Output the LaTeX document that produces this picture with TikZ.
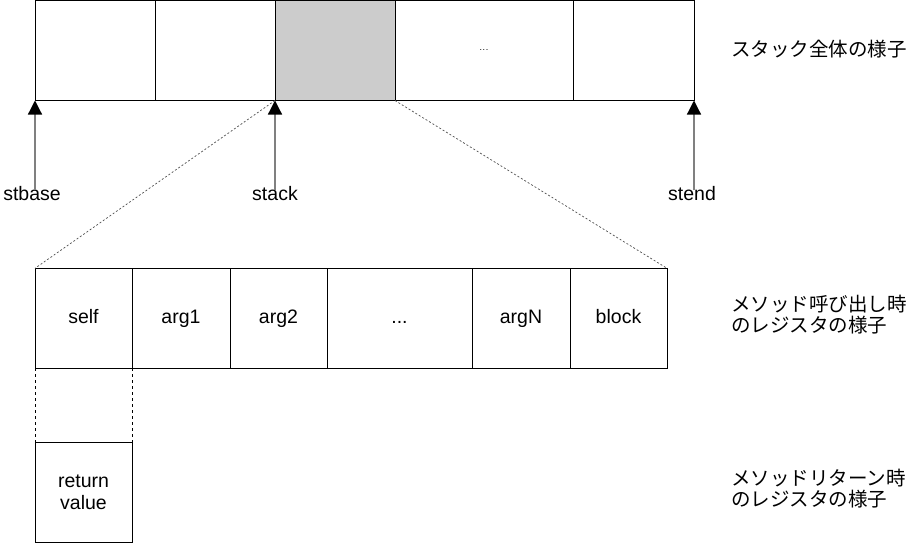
\documentclass[tikz,border=0pt]{standalone}
\usepackage{fontspec}
\setmainfont{Liberation Sans}
\newfontfamily\jpfont{Noto Sans CJK JP}
\usetikzlibrary{arrows.meta}
\begin{document}
\begin{tikzpicture}[x=1pt,y=-1pt,
  cell/.style={draw=black,line width=1pt,inner sep=0pt,outer sep=0pt,minimum height=100pt,
    font=\fontsize{19.5}{22}\selectfont},
  txt/.style={text height=14pt,text depth=4pt},
  lbl/.style={inner sep=0pt,font=\fontsize{19.5}{22}\selectfont,text height=14pt,text depth=4pt},
  jp/.style={inner sep=0pt,anchor=west,align=left,font=\jpfont\fontsize{19.5}{21}\selectfont},
  pointer/.style={draw={rgb,255:red,128;green,128;blue,128},line width=1.2pt,
    -{Triangle[width=14pt,length=14pt,black]}},
  zoomline/.style={draw={rgb,255:red,80;green,80;blue,80},line width=0.7pt,dash pattern=on 2pt off 2pt},
  selfline/.style={draw=black,line width=1pt,dash pattern=on 3pt off 3pt}]
\useasboundingbox (0,0) rectangle (916,543);
% top row
\node[cell,minimum width=120pt] (t1) at (95,50.5) {};
\node[cell,minimum width=120pt] (t2) at (215,50.5) {};
\node[cell,minimum width=120pt,fill={rgb,255:red,204;green,204;blue,204}] (t3) at (335,50.5) {};
\node[cell,minimum width=178pt,font=\fontsize{9}{10}\selectfont] (t4) at (484,50.5) {.\kern0.6pt.\kern0.6pt.};
\node[cell,minimum width=121pt] (t5) at (633.5,50.5) {};
% pointer labels
\node[lbl] (lbase) at (32,195) {stbase};
\node[lbl] (lstack) at (275,195) {stack};
\node[lbl] (lend) at (692,195) {stend};
\draw[pointer] ([yshift=-4pt]t1.south west |- lbase.north) -- (t1.south west);
\draw[pointer] ([yshift=-4pt]t3.south west |- lstack.north) -- (t3.south west);
\draw[pointer] ([yshift=-4pt]t5.south east |- lend.north) -- (t5.south east);
% bottom row
\node[cell,txt,minimum width=97pt] (b1) at (83.5,318.3) {self};
\node[cell,txt,minimum width=98pt] (b2) at (181,318.3) {arg1};
\node[cell,txt,minimum width=97pt] (b3) at (278.5,318.3) {arg2};
\node[cell,txt,minimum width=145pt] (b4) at (399.5,318.3) {...};
\node[cell,txt,minimum width=98pt] (b5) at (521,318.3) {argN};
\node[cell,txt,minimum width=97pt] (b6) at (618.5,318.3) {block};
% zoom lines
\draw[zoomline] (t3.south west) -- (b1.north west);
\draw[zoomline] (t3.south east) -- (b6.north east);
% return value
\node[cell,align=center,minimum width=97pt] (rv) at (83.5,492.3) {return\\value};
\draw[selfline] (b1.south west) -- (rv.north west);
\draw[selfline] (b1.south east) -- (rv.north east);
% right labels
\node[jp] (j1) at (731,49) {スタック全体の様子};
\node[jp] (j2) at (731,315) {メソッド呼び出し時\\のレジスタの様子};
\node[jp] (j3) at (731,488.5) {メソッドリターン時\\のレジスタの様子};
\end{tikzpicture}
\end{document}
